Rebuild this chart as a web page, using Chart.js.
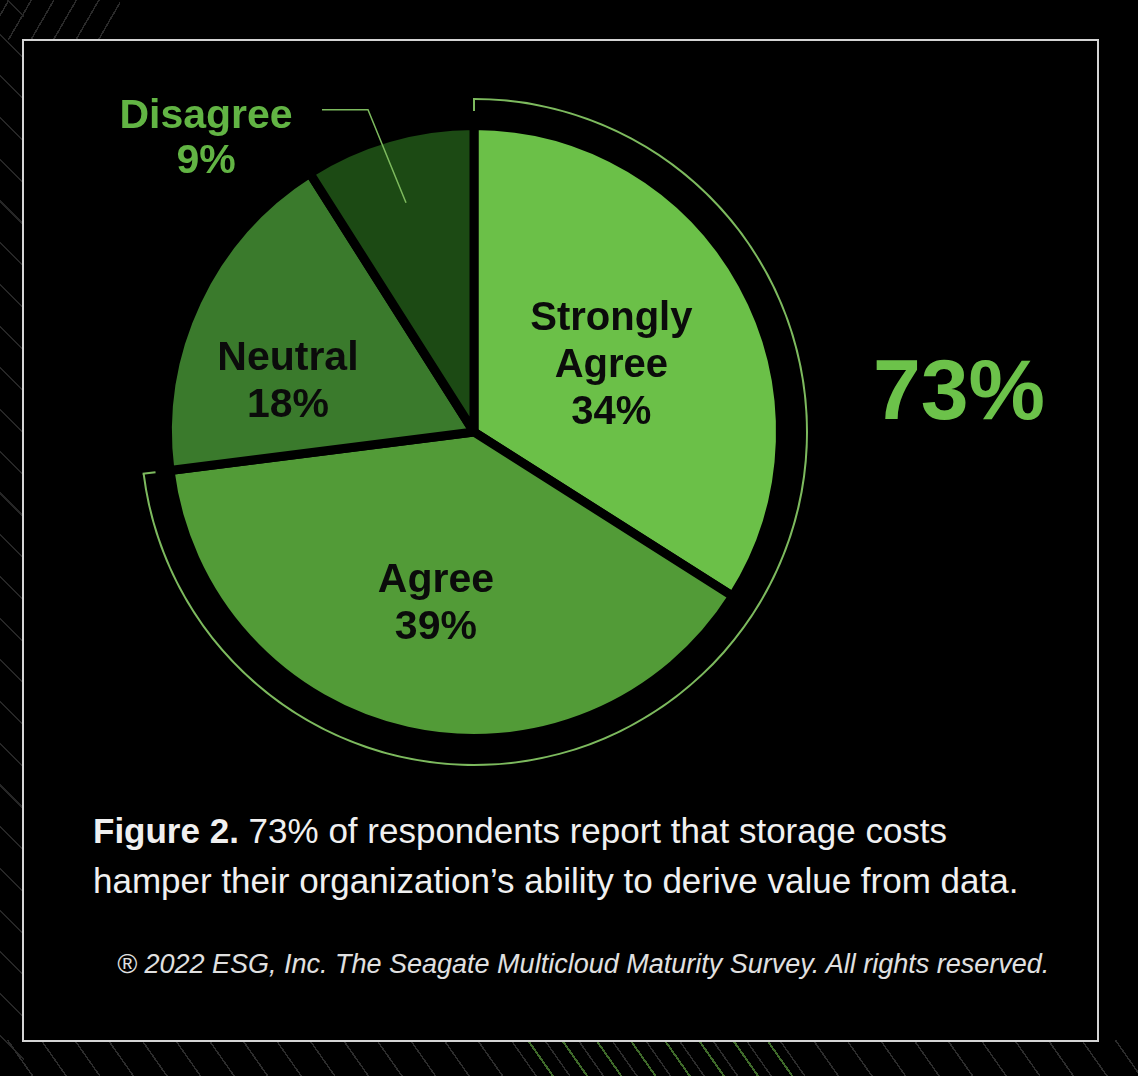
<!DOCTYPE html>
<html>
<head>
<meta charset="utf-8">
<script src="https://cdn.jsdelivr.net/npm/chart.js@4.4.1/dist/chart.umd.min.js"></script>
<style>
  html, body { margin: 0; padding: 0; }
  body {
    width: 1138px; height: 1076px; position: relative; overflow: hidden;
    background-color: #000;
    font-family: "Liberation Sans", Arial, Helvetica, sans-serif;
  }
  .stripes-left {
    position: absolute; left: 0; top: 0; width: 24px; height: 1076px;
    background: repeating-linear-gradient(45deg, transparent 0 28px, #262626 28px 29.5px);
  }
  .stripes-top {
    position: absolute; left: 0; top: 0; width: 120px; height: 40px;
    background: repeating-linear-gradient(-60deg, transparent 0 18px, #2a2a2a 18px 19.5px);
  }
  .stripes-bottom {
    position: absolute; left: 0; top: 1040px; width: 1138px; height: 36px;
    background: repeating-linear-gradient(55deg, transparent 0 26px, #2c2c2c 26px 27.5px);
  }
  .stripes-green {
    position: absolute; left: 520px; top: 1040px; width: 280px; height: 36px;
    background: repeating-linear-gradient(55deg, transparent 0 26px, #3f6a2a 26px 28px);
  }
  .box {
    position: absolute; left: 22px; top: 39px; width: 1073px; height: 999px;
    border: 2px solid #d4d4d4; background: #000;
  }
  .chart-wrap { position: absolute; left: 0; top: 0; width: 1073px; height: 760px; }
  .big {
    position: absolute; left: 825px; top: 305px; width: 220px; text-align: center;
    color: #6cc24a; font-weight: bold; font-size: 86px; line-height: 1;
  }
  .caption {
    position: absolute; left: 69px; top: 765px; color: #f0f0f0;
    font-size: 35px; line-height: 50px;
  }
  .caption b { font-weight: bold; }
  .source {
    position: absolute; left: 93px; top: 908px; white-space: nowrap;
    color: #e0e0e0; font-style: italic; font-size: 27px;
  }
</style>
</head>
<body>
<div class="stripes-top"></div>
<div class="stripes-left"></div>
<div class="stripes-bottom"></div>
<div class="stripes-green"></div>
<div class="box">
  <div class="chart-wrap"><canvas id="pieChart"></canvas></div>
  <div class="big" id="bigNumber"></div>
  <div class="caption"><b>Figure 2.</b> <span id="captionText"></span></div>
  <div class="source">® 2022 ESG, Inc. The Seagate Multicloud Maturity Survey. All rights reserved.</div>
</div>

<script>
// Datos del gráfico
const categorias = ["Strongly Agree", "Agree", "Neutral", "Disagree"];
const valores = [34, 39, 18, 9];
const colores = ["#6bc048", "#529b37", "#3a7a2c", "#1c4a14"];

// Porcentaje que está de acuerdo (Strongly Agree + Agree)
const deAcuerdo = valores[0] + valores[1];
const resto = 100 - deAcuerdo;

document.getElementById("bigNumber").textContent = deAcuerdo + "%";
document.getElementById("captionText").innerHTML =
  deAcuerdo + "% of respondents report that storage costs<br>hamper their organization’s ability to derive value from data.";

const verdeLinea = "#7dba5e";

// Posición de las etiquetas: fracción del radio (r) y fracción del ángulo del sector (t)
const posEtiquetas = [
  { r: 0.50, t: 0.52, lineas: ["Strongly", "Agree"], size: 40 },
  { r: 0.57, t: 0.50, lineas: ["Agree"], size: 41 },
  { r: 0.63, t: 0.35, lineas: ["Neutral"], size: 41 },
  { r: 0.78, t: 0.49, lineas: ["Disagree"], size: 41, fuera: true }
];

function polar(cx, cy, r, a) {
  return { x: cx + r * Math.cos(a), y: cy + r * Math.sin(a) };
}

const etiquetasPlugin = {
  id: "etiquetas",
  afterDatasetsDraw(chart) {
    const ctx = chart.ctx;
    ctx.save();

    // Marcas en los extremos del arco exterior
    const arco = chart.getDatasetMeta(0).data[0];
    if (arco) {
      ctx.strokeStyle = verdeLinea;
      ctx.lineWidth = 2;
      [arco.startAngle, arco.endAngle].forEach(a => {
        const p1 = polar(arco.x, arco.y, arco.outerRadius, a);
        const p2 = polar(arco.x, arco.y, arco.outerRadius - 13, a);
        ctx.beginPath();
        ctx.moveTo(p1.x, p1.y);
        ctx.lineTo(p2.x, p2.y);
        ctx.stroke();
      });
    }

    // Etiquetas de los sectores
    const meta = chart.getDatasetMeta(2);
    meta.data.forEach((el, i) => {
      const cfg = posEtiquetas[i];
      const ang = el.startAngle + (el.endAngle - el.startAngle) * cfg.t;
      const p = polar(el.x, el.y, el.outerRadius * cfg.r, ang);
      const lineas = cfg.lineas.concat([valores[i] + "%"]);
      ctx.font = "bold " + cfg.size + "px 'Liberation Sans', Arial, sans-serif";
      ctx.textAlign = "center";
      ctx.textBaseline = "middle";

      if (cfg.fuera) {
        // línea guía hacia la etiqueta exterior
        const codo = { x: p.x - 38, y: p.y - 93 };
        const fin = { x: codo.x - 46, y: codo.y };
        ctx.strokeStyle = verdeLinea;
        ctx.lineWidth = 1.5;
        ctx.beginPath();
        ctx.moveTo(p.x, p.y);
        ctx.lineTo(codo.x, codo.y);
        ctx.lineTo(fin.x, fin.y);
        ctx.stroke();
        ctx.fillStyle = "#62b444";
        const cx = codo.x - 162;
        lineas.forEach((t, k) => ctx.fillText(t, cx, codo.y + 7 + k * 45));
      } else {
        ctx.fillStyle = "#0b0b0b";
        const n = lineas.length;
        lineas.forEach((t, k) => ctx.fillText(t, p.x, p.y + 2 + (k - (n - 1) / 2) * 47));
      }
    });
    ctx.restore();
  }
};

new Chart(document.getElementById("pieChart"), {
  type: "doughnut",
  data: {
    labels: categorias,
    datasets: [
      {
        // arco fino exterior (73%)
        data: [deAcuerdo, resto],
        backgroundColor: [verdeLinea, "rgba(0,0,0,0)"],
        borderWidth: 0,
        weight: 2
      },
      {
        // separación
        data: [100],
        backgroundColor: ["rgba(0,0,0,0)"],
        borderWidth: 0,
        weight: 25.5
      },
      {
        data: valores,
        backgroundColor: colores,
        borderColor: "#000",
        borderWidth: 9,
        weight: 306.5
      }
    ]
  },
  options: {
    responsive: true,
    maintainAspectRatio: false,
    animation: false,
    events: [],
    cutout: 0,
    radius: 334,
    layout: { padding: { top: 30, bottom: 8, left: 10, right: 183 } },
    plugins: {
      legend: { display: false },
      tooltip: { enabled: false }
    }
  },
  plugins: [etiquetasPlugin]
});
</script>
</body>
</html>
